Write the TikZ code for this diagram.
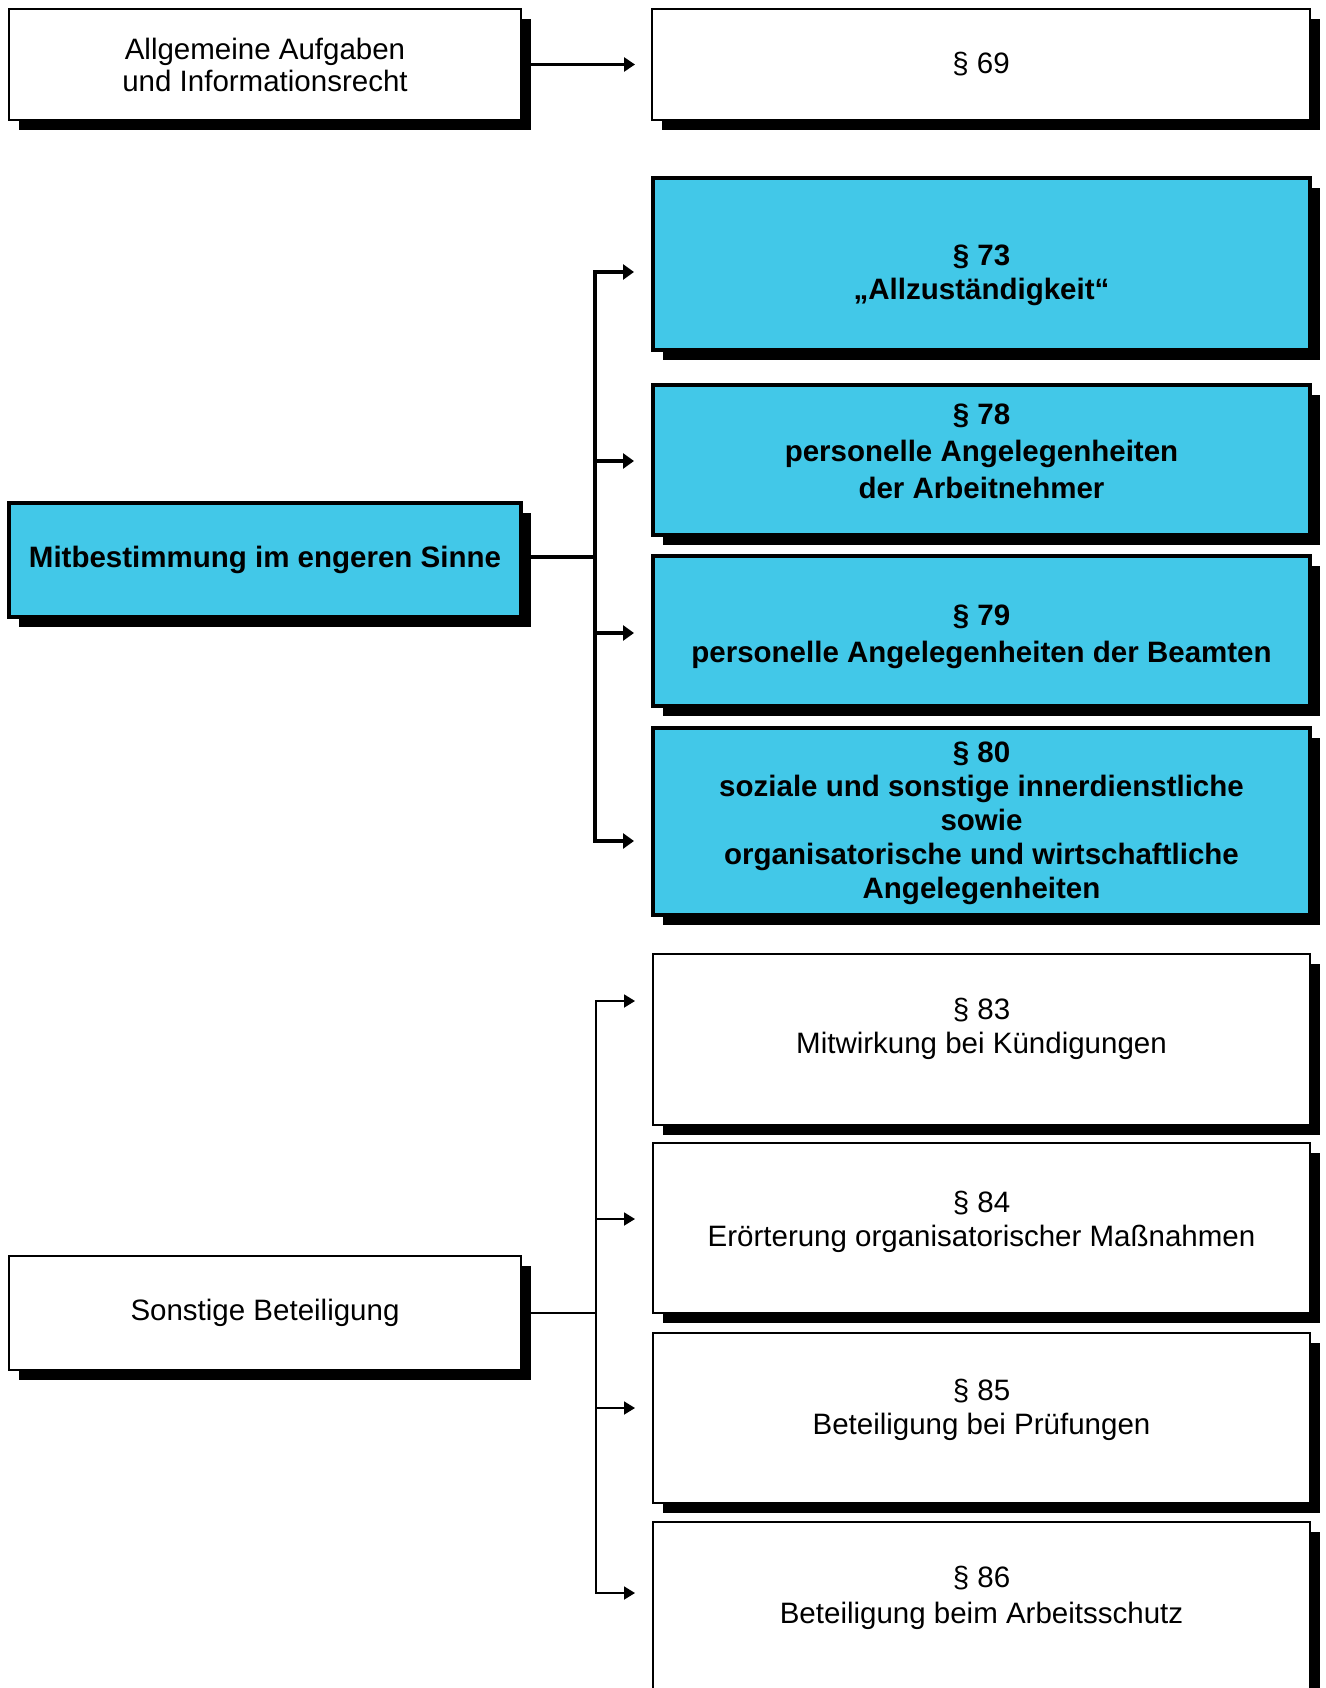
\documentclass[tikz,border=0pt]{standalone}
\usepackage{fontspec}
\setmainfont{Liberation Sans}
\usetikzlibrary{shadows,arrows.meta}
\definecolor{boxblue}{RGB}{66,200,232}
\begin{document}
\begin{tikzpicture}[x=1pt,y=-1pt,
  boxbase/.style={rectangle, inner sep=0pt, outer sep=0pt,
    drop shadow={shadow xshift=10pt,shadow yshift=-10pt,fill=black,opacity=1}},
  whitebox/.style={boxbase, draw=black, line width=1.8pt, fill=white},
  bluebox/.style={boxbase, draw=black, line width=4.5pt, fill=boxblue},
  wtxt/.style={align=center, inner sep=0pt, font=\fontsize{29.5}{32}\selectfont},
  btxt/.style={align=center, inner sep=0pt, font=\fontsize{29.5}{34}\selectfont\bfseries},
  thinarr/.style={line width=1.8pt, -{Triangle[length=11pt,width=13pt]}},
  thickarr/.style={line width=4.5pt, -{Triangle[length=11pt,width=15pt]}},
  toparr/.style={line width=2.6pt, -{Triangle[length=11pt,width=14pt]}},
]
\clip (0,0) rectangle (1325,1688);
\fill[white] (0,0) rectangle (1325,1688);

% left boxes
\node[whitebox, wtxt, minimum width=512pt, minimum height=111pt] (allg) at (265,64.5)
  {Allgemeine Aufgaben\\und Informationsrecht};
\node[bluebox, btxt, minimum width=512pt, minimum height=114pt] (mit) at (265,560)
  {\raisebox{-4pt}{Mitbestimmung im engeren Sinne}};
\node[whitebox, wtxt, minimum width=512pt, minimum height=114pt] (sonst) at (265,1313)
  {\raisebox{-3pt}{Sonstige Beteiligung}};

% right boxes
\node[whitebox, wtxt, minimum width=658pt, minimum height=111pt] (p69) at (981,64.5) {\raisebox{-2pt}{§ 69}};

\node[bluebox, minimum width=657pt, minimum height=172pt] (p73) at (981.5,264) {};
\node[bluebox, minimum width=657pt, minimum height=150pt] (p78) at (981.5,460) {};
\node[bluebox, minimum width=657pt, minimum height=150pt] (p79) at (981.5,631) {};
\node[bluebox, minimum width=657pt, minimum height=187pt] (p80) at (981.5,821.5) {};

\node[whitebox, minimum width=657pt, minimum height=171pt] (p83) at (981.5,1039.5) {};
\node[whitebox, minimum width=657pt, minimum height=170pt] (p84) at (981.5,1228) {};
\node[whitebox, minimum width=657pt, minimum height=170pt] (p85) at (981.5,1418) {};
\node[whitebox, minimum width=657pt, minimum height=200pt] (p86) at (981.5,1622) {};

% texts of right boxes
\node[btxt] (t73) at (981.5,275) {§ 73\\„Allzuständigkeit“};
\node[btxt, font=\fontsize{29.5}{37}\selectfont\bfseries] (t78) at (981.5,451) {§ 78\\personelle Angelegenheiten\\der Arbeitnehmer};
\node[btxt, font=\fontsize{29.5}{37}\selectfont\bfseries] (t79) at (981.5,637) {§ 79\\personelle Angelegenheiten der Beamten};
\node[btxt] (t80) at (981.5,823) {§ 80\\soziale und sonstige innerdienstliche\\sowie\\organisatorische und wirtschaftliche\\Angelegenheiten};
\node[wtxt, font=\fontsize{29.5}{34}\selectfont] (t83) at (981.5,1029) {§ 83\\Mitwirkung bei Kündigungen};
\node[wtxt, font=\fontsize{29.5}{34}\selectfont] (t84) at (981.5,1222) {§ 84\\Erörterung organisatorischer Maßnahmen};
\node[wtxt, font=\fontsize{29.5}{34}\selectfont] (t85) at (981.5,1410) {§ 85\\Beteiligung bei Prüfungen};
\node[wtxt, font=\fontsize{29.5}{36}\selectfont] (t86) at (981.5,1598) {§ 86\\Beteiligung beim Arbeitsschutz};

% top arrow
\draw[toparr, shorten >=17pt] (allg.east) -- (p69.west);

% upper bracket
\coordinate (u1) at (595,272);
\coordinate (u2) at (595,461);
\coordinate (u3) at (595,633);
\coordinate (u4) at (595,841);
\coordinate (uj) at (595,557);
\draw[line width=4.5pt] (mit.east |- uj) -- (uj);
\draw[thickarr, shorten >=19pt] (u2) -- (u1) -- (u1 -| p73.west);
\draw[thickarr, shorten >=19pt] (u2) -- (u4) -- (u4 -| p80.west);
\draw[thickarr, shorten >=19pt] (u2) -- (u2 -| p78.west);
\draw[thickarr, shorten >=19pt] (u3) -- (u3 -| p79.west);

% lower bracket
\coordinate (l1) at (596,1001);
\coordinate (l2) at (596,1219);
\coordinate (l3) at (596,1408);
\coordinate (l4) at (596,1593);
\coordinate (lj) at (596,1313);
\draw[line width=1.8pt] (sonst.east) -- (lj);
\draw[thinarr, shorten >=18pt] (l2) -- (l1) -- (l1 -| p83.west);
\draw[thinarr, shorten >=18pt] (l2) -- (l4) -- (l4 -| p86.west);
\draw[thinarr, shorten >=18pt] (l2) -- (l2 -| p84.west);
\draw[thinarr, shorten >=18pt] (l3) -- (l3 -| p85.west);
\end{tikzpicture}
\end{document}
